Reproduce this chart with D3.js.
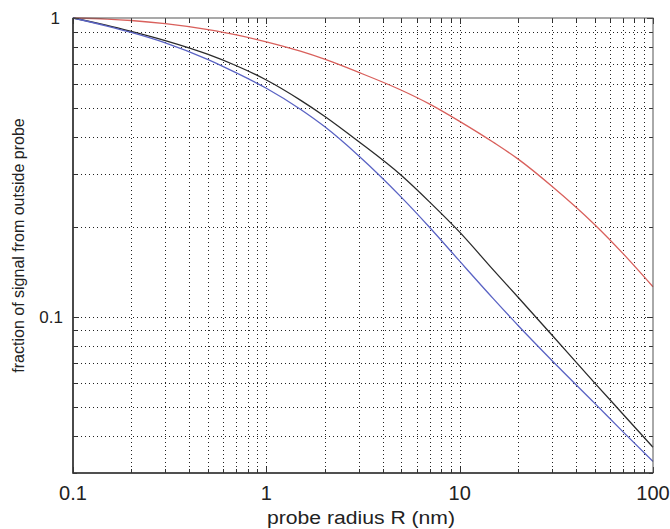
<!DOCTYPE html>
<html>
<head>
<meta charset="utf-8">
<script src="https://cdn.jsdelivr.net/npm/d3@7"></script>
<style>
  body { margin: 0; background: #fff; }
  text { font-family: "Liberation Sans", Arial, sans-serif; fill: #222; }
</style>
</head>
<body>
<div id="chart"></div>
<script>
// values (probe radius in nm, fraction of signal)
const radius = [0.1, 0.15, 0.2, 0.3, 0.5, 0.7, 1, 1.5, 2, 3, 5, 7, 10, 15, 20, 30, 50, 70, 100]
const redF   = [1.0, 0.992, 0.981, 0.957, 0.914, 0.878, 0.832, 0.774, 0.728, 0.658, 0.573, 0.515, 0.451, 0.383, 0.3377, 0.2735, 0.2033, 0.1627, 0.126]
const blackF = [1.0, 0.945, 0.902, 0.84, 0.755, 0.692, 0.62, 0.531, 0.469, 0.386, 0.297, 0.242, 0.192, 0.143, 0.1165, 0.0869, 0.060, 0.0472, 0.0366]
const blueF  = [1.0, 0.94, 0.895, 0.826, 0.726, 0.655, 0.582, 0.495, 0.433, 0.346, 0.251, 0.199, 0.1535, 0.1146, 0.0937, 0.0714, 0.0513, 0.0412, 0.0328]

const xTickLabels = [0.1, 1, 10, 100]
const yTickLabels = [0.1, 1]

const width = 670
const height = 529
const padding = { top: 18, right: 17, bottom: 56, left: 73 }

const svg = d3.select("#chart")
  .append("svg")
  .attr("width", width)
  .attr("height", height)

const xScale = d3.scaleLog().domain([0.1, 100]).range([padding.left, width - padding.right])
const yScale = d3.scaleLog().domain([0.03, 1]).range([height - padding.bottom, padding.top])

const x0 = xScale.range()[0], x1 = xScale.range()[1]
const y0 = yScale.range()[0], y1 = yScale.range()[1]

// all minor + major positions
const xTicks = xScale.ticks()
const yTicks = yScale.ticks().filter(d => d >= 0.03 - 1e-9)

//dotted grid
const grid = svg.append("g")
  .attr("stroke", "#222")
  .attr("stroke-width", 1)
  .attr("stroke-dasharray", "1,3")

grid.selectAll(".vgrid")
  .data(xTicks.filter(d => d > 0.1 && d < 100))
  .enter()
  .append("line")
  .attr("class", "vgrid")
  .attr("x1", d => Math.round(xScale(d)) + 0.5)
  .attr("x2", d => Math.round(xScale(d)) + 0.5)
  .attr("y1", y1)
  .attr("y2", y0)

grid.selectAll(".hgrid")
  .data(yTicks.filter(d => d > 0.03 && d < 1))
  .enter()
  .append("line")
  .attr("class", "hgrid")
  .attr("y1", d => Math.round(yScale(d)) + 0.5)
  .attr("y2", d => Math.round(yScale(d)) + 0.5)
  .attr("x1", x0)
  .attr("x2", x1)

// curves
const line = d3.line()
  .x(d => xScale(d[0]))
  .y(d => yScale(d[1]))
  .curve(d3.curveMonotoneX)

const series = [
  { f: redF, color: "#d9605c" },
  { f: blackF, color: "#2a2a2a" },
  { f: blueF, color: "#5a63c4" },
]

svg.append("g")
  .selectAll("path")
  .data(series)
  .enter()
  .append("path")
  .attr("d", s => line(radius.map((r, i) => [r, s.f[i]])))
  .attr("fill", "none")
  .attr("stroke", s => s.color)
  .attr("stroke-width", 1.3)

// ticks on all four sides, pointing inward
const ticks = svg.append("g").attr("stroke", "#333").attr("stroke-width", 1)
const isMajor = d => Math.abs(Math.log10(d) - Math.round(Math.log10(d))) < 1e-6

xTicks.forEach(d => {
  const x = Math.round(xScale(d)) + 0.5
  const len = isMajor(d) ? 6 : 4
  ticks.append("line").attr("x1", x).attr("x2", x).attr("y1", y0).attr("y2", y0 - len)
  ticks.append("line").attr("x1", x).attr("x2", x).attr("y1", y1).attr("y2", y1 + len)
})
yTicks.forEach(d => {
  const y = Math.round(yScale(d)) + 0.5
  const len = isMajor(d) ? 6 : 4
  ticks.append("line").attr("y1", y).attr("y2", y).attr("x1", x0).attr("x2", x0 + len)
  ticks.append("line").attr("y1", y).attr("y2", y).attr("x1", x1).attr("x2", x1 - len)
})

// box
svg.append("rect")
  .attr("x", x0)
  .attr("y", y1)
  .attr("width", x1 - x0)
  .attr("height", y0 - y1)
  .attr("fill", "none")
  .attr("stroke", "#555")
  .attr("stroke-width", 1)

svg.append("path")
  .attr("d", `M${x0},${y1}V${y0}H${x1}`)
  .attr("fill", "none")
  .attr("stroke", "#333")
  .attr("stroke-width", 1.6)

// tick labels
svg.selectAll(".xlab")
  .data(xTickLabels)
  .enter()
  .append("text")
  .attr("class", "xlab")
  .attr("x", d => xScale(d))
  .attr("y", 500)
  .attr("text-anchor", "middle")
  .attr("font-size", 20)
  .text(d => d)

svg.selectAll(".ylab")
  .data(yTickLabels)
  .enter()
  .append("text")
  .attr("class", "ylab")
  .attr("x", d => d === 1 ? 60 : 63)
  .attr("y", d => yScale(d))
  .attr("dy", "0.36em")
  .attr("text-anchor", "end")
  .attr("font-size", 17)
  .text(d => d)

// axis titles
svg.append("text")
  .attr("x", (x0 + x1) / 2 - 2)
  .attr("y", 524)
  .attr("text-anchor", "middle")
  .attr("font-size", 18)
  .attr("textLength", 188)
  .attr("lengthAdjust", "spacingAndGlyphs")
  .text("probe radius R (nm)")

svg.append("text")
  .attr("transform", `translate(24, ${(y0 + y1) / 2}) rotate(-90)`)
  .attr("text-anchor", "middle")
  .attr("font-size", 16)
  .text("fraction of signal from outside probe")
</script>
</body>
</html>
